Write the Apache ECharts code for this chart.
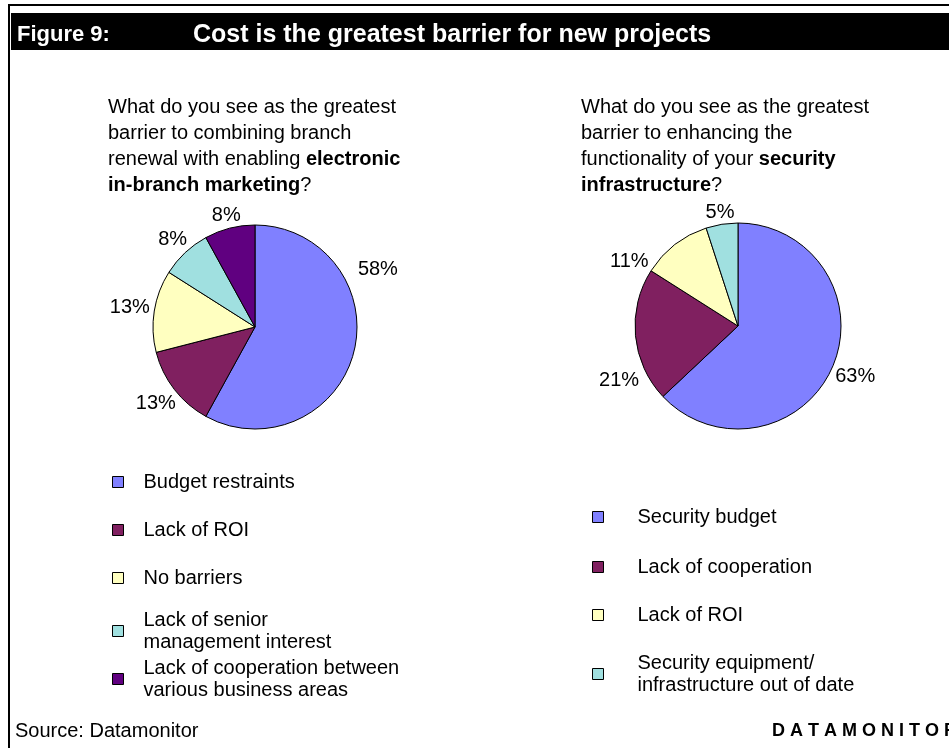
<!DOCTYPE html>
<html>
<head>
<meta charset="utf-8">
<title>Figure 9</title>
<script src="https://cdn.jsdelivr.net/npm/echarts@6/dist/echarts.min.js"></script>
<style>
  html, body { margin: 0; padding: 0; background: #fff; }
  #main { width: 949px; height: 748px; }
</style>
</head>
<body>
<div id="main"></div>
<script>
var font = 'Arial, "Liberation Sans", sans-serif';

// left pie: electronic in-branch marketing
var branchNames = [
    'Budget restraints',
    'Lack of ROI',
    'No barriers',
    'Lack of senior\nmanagement interest',
    'Lack of cooperation between\nvarious business areas'
];
var branchValues = [58, 13, 13, 8, 8];
var branchColors = ['#8080FF', '#802060', '#FFFFC0', '#A0E0E0', '#600080'];

// right pie: security infrastructure
var securityNames = [
    'Security budget',
    'Lack of cooperation',
    'Lack of ROI',
    'Security equipment/\ninfrastructure out of date'
];
var securityValues = [63, 21, 11, 5];
var securityColors = ['#8080FF', '#802060', '#FFFFC0', '#A0E0E0'];

// a few labels were dragged by hand in the original, offsets from the automatic spot
var labelNudges = [
    { 0: [0, -89] },
    { 1: [8, 42], 2: [-33, 33] }
];

var chart = echarts.init(document.getElementById('main'));

function pieData(names, values, colors) {
    return names.map(function (name, i) {
        return { name: name, value: values[i], itemStyle: { color: colors[i] } };
    });
}

// one legend block per row, so the rows can keep the original rhythm
function legendRows(names, colors, left, centers, textGap) {
    return names.map(function (name, i) {
        var lines = name.split('\n').length;
        return {
            orient: 'vertical',
            left: left,
            top: centers[i] - lines * 11,
            padding: 0,
            icon: 'rect',
            itemWidth: 11,
            itemHeight: 11,
            selectedMode: false,
            itemStyle: { borderColor: '#000', borderWidth: 1 },
            textStyle: {
                fontFamily: font, fontSize: 20, lineHeight: 22, color: '#000',
                padding: [0, 0, 0, textGap]
            },
            data: [{ name: name, itemStyle: { color: colors[i], borderColor: '#000', borderWidth: 1 } }]
        };
    });
}

// centre each label a little outside the slice, along its middle angle (like Excel does)
function placeLabel(p) {
    var pts = p.labelLinePoints;
    if (!pts) {
        return {};
    }
    var dx = pts[1][0] - pts[0][0];
    var dy = pts[1][1] - pts[0][1];
    var len = Math.sqrt(dx * dx + dy * dy) || 1;
    dx /= len;
    dy /= len;
    var d = 4 + Math.abs(dx) * p.labelRect.width / 2 + Math.abs(dy) * (p.labelRect.height / 2 - 4);
    var nudge = (labelNudges[p.seriesIndex] || {})[p.dataIndex] || [0, 0];
    return {
        x: pts[0][0] + dx * d + nudge[0],
        y: pts[0][1] + dy * d + nudge[1],
        align: 'center',
        verticalAlign: 'middle'
    };
}

function pieSeries(center, radius, names, values, colors) {
    return {
        type: 'pie',
        center: center,
        radius: radius,
        startAngle: 90,
        clockwise: true,
        avoidLabelOverlap: false,
        itemStyle: { borderColor: '#000', borderWidth: 1 },
        label: {
            position: 'outside',
            formatter: '{c}%',
            fontFamily: font,
            fontSize: 20,
            color: '#000',
            distanceToLabelLine: 0
        },
        labelLine: { show: true, length: 4, length2: 0, lineStyle: { opacity: 0 } },
        labelLayout: placeLabel,
        emphasis: { disabled: true },
        data: pieData(names, values, colors)
    };
}

var questionStyle = {
    fontFamily: font,
    fontSize: 20,
    fontWeight: 'normal',
    lineHeight: 26,
    color: '#000',
    rich: {
        n: { fontFamily: font, fontSize: 20, fontWeight: 'normal', lineHeight: 26, color: '#000' },
        b: { fontFamily: font, fontSize: 20, fontWeight: 'bold', lineHeight: 26, color: '#000' }
    }
};

var option = {
    animation: false,
    backgroundColor: '#fff',
    title: [{
        left: 108,
        top: 94,
        padding: 0,
        text: '{n|What do you see as the greatest}\n{n|barrier to combining branch}\n' +
            '{n|renewal with enabling }{b|electronic}\n{b|in-branch marketing}{n|?}',
        textStyle: questionStyle
    }, {
        left: 581,
        top: 94,
        padding: 0,
        text: '{n|What do you see as the greatest}\n{n|barrier to enhancing the}\n' +
            '{n|functionality of your }{b|security}\n{b|infrastructure}{n|?}',
        textStyle: questionStyle
    }],
    legend: legendRows(branchNames, branchColors, 112, [482, 530, 578, 631, 679], 15)
        .concat(legendRows(securityNames, securityColors, 592, [517, 567, 615, 674], 29)),
    graphic: [
        { type: 'rect', shape: { x: 8, y: 4, width: 941, height: 2 }, style: { fill: '#000' } },
        { type: 'rect', shape: { x: 8, y: 4, width: 2, height: 744 }, style: { fill: '#000' } },
        { type: 'rect', shape: { x: 11, y: 13, width: 938, height: 37 }, style: { fill: '#000' } },
        {
            type: 'text', x: 17, y: 35,
            style: { text: 'Figure 9:', fill: '#fff', font: 'bold 22px ' + font, verticalAlign: 'middle' }
        },
        {
            type: 'text', x: 193, y: 35,
            style: {
                text: 'Cost is the greatest barrier for new projects', fill: '#fff',
                font: 'bold 25px ' + font, verticalAlign: 'middle'
            }
        },
        {
            type: 'text', x: 15, y: 731,
            style: { text: 'Source: Datamonitor', fill: '#000', font: '20px ' + font, verticalAlign: 'middle' }
        },
        {
            type: 'text', x: 772, y: 731,
            style: { text: 'D A T A M O N I T O R', fill: '#000', font: 'bold 18px ' + font, verticalAlign: 'middle' }
        }
    ],
    series: [
        pieSeries([255, 327], 102, branchNames, branchValues, branchColors),
        pieSeries([738, 326], 103, securityNames, securityValues, securityColors)
    ]
};

chart.setOption(option);
</script>
</body>
</html>
